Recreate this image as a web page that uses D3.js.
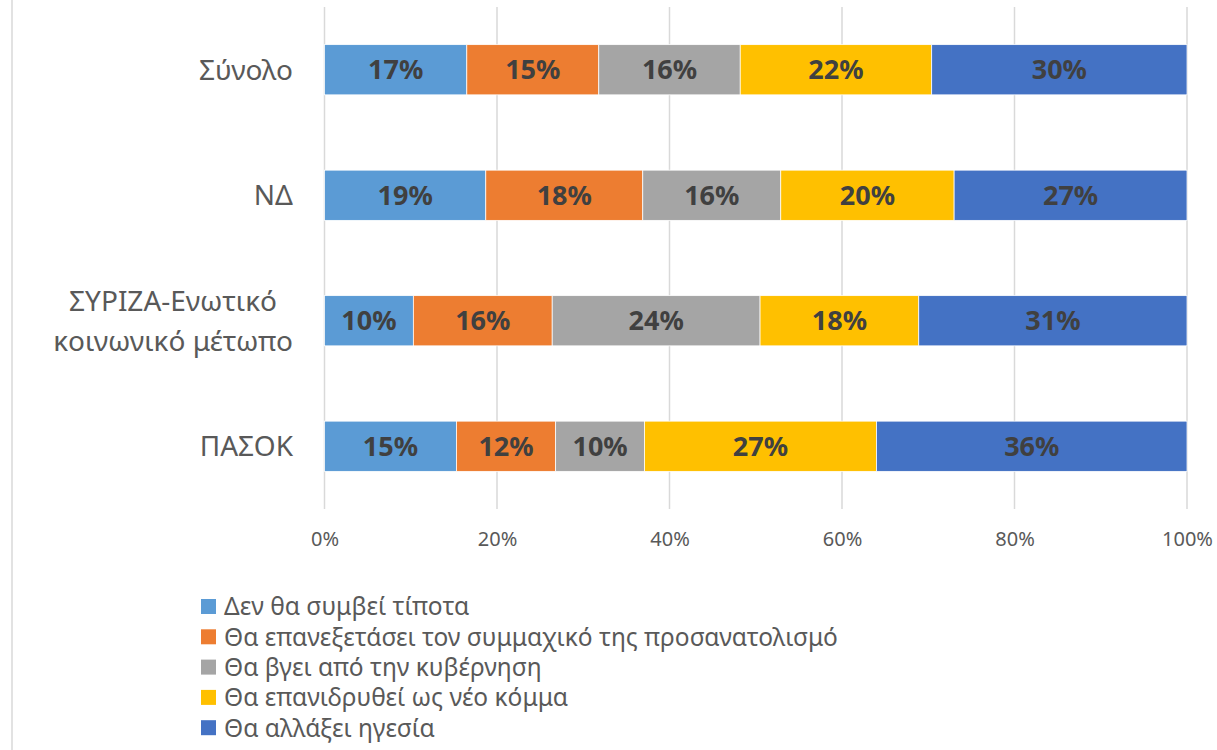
<!DOCTYPE html>
<html>
<head>
<meta charset="utf-8">
<script src="https://cdn.jsdelivr.net/npm/d3@7"></script>
<style>
  html, body { margin: 0; padding: 0; background: #fff; }
  svg { display: block; font-family: 'Noto Sans', 'Open Sans', sans-serif; }
</style>
</head>
<body>
<div id="app"></div>
<script>
(function (d3) {
  'use strict'

  // categories (top to bottom)
  const categories = ['Σύνολο', 'ΝΔ', 'ΣΥΡΙΖΑ-Ενωτικό|κοινωνικό μέτωπο', 'ΠΑΣΟΚ']

  // series names, in stack order
  const seriesNames = [
    'Δεν θα συμβεί τίποτα',
    'Θα επανεξετάσει τον συμμαχικό της προσανατολισμό',
    'Θα βγει από την κυβέρνηση',
    'Θα επανιδρυθεί ως νέο κόμμα',
    'Θα αλλάξει ηγεσία'
  ]

  // values per series, one per category (percent)
  const denTipota = [16.5, 18.7, 10.3, 15.3]
  const epanexetasi = [15.3, 18.2, 16.1, 11.5]
  const vgeiKyvernisi = [16.4, 16.0, 24.1, 10.3]
  const epanidrysi = [22.2, 20.1, 18.4, 26.9]
  const allagiIgesias = [29.6, 27.0, 31.1, 36.0]

  const ticks = [0, 0.2, 0.4, 0.6, 0.8, 1]
  const colors = ['#5B9BD5', '#ED7D31', '#A5A5A5', '#FFC000', '#4472C4']

  const seriesValues = [denTipota, epanexetasi, vgeiKyvernisi, epanidrysi, allagiIgesias]

  // build rows for d3.stack
  const rows = categories.map(function (c, i) {
    const row = { cat: c }
    seriesNames.forEach(function (s, j) { row[s] = seriesValues[j][i] })
    return row
  })

  const stacked = d3.stack()
    .keys(seriesNames)
    .offset(d3.stackOffsetExpand)(rows)

  const W = 1217
  const H = 750

  const svg = d3.select('#app')
    .append('svg')
    .attr('width', W)
    .attr('height', H)

  // chart border (only left edge visible)
  svg.append('rect')
    .attr('x', 12)
    .attr('y', -10)
    .attr('width', W + 20)
    .attr('height', H + 20)
    .attr('fill', 'none')
    .attr('stroke', '#D9D9D9')
    .attr('stroke-width', 1.5)

  const xScale = d3.scaleLinear()
    .domain([0, 1])
    .range([324.5, 1187])

  const yScale = d3.scaleBand()
    .domain(categories)
    .range([7, 509])
    .paddingInner(0.6)
    .paddingOuter(0.3)

  // gridlines
  svg.append('g')
    .selectAll('line')
    .data(ticks)
    .enter()
    .append('line')
    .attr('x1', function (d) { return xScale(d) })
    .attr('x2', function (d) { return xScale(d) })
    .attr('y1', 7)
    .attr('y2', 509)
    .attr('stroke', '#D9D9D9')
    .attr('stroke-width', 1.5)

  // x axis labels
  const xAxis = d3.axisBottom(xScale)
    .tickValues(ticks)
    .tickFormat(d3.format('.0%'))
    .tickSize(0)
    .tickPadding(0)

  const gx = svg.append('g')
    .attr('transform', 'translate(0,532)')
    .call(xAxis)
  gx.select('.domain').remove()
  gx.selectAll('text')
    .attr('fill', '#595959')
    .style('font-size', '20px')
    .style('font-family', "'Noto Sans', sans-serif")

  // bars
  const layer = svg.append('g')
    .selectAll('g')
    .data(stacked)
    .enter()
    .append('g')
    .attr('fill', function (d, i) { return colors[i] })

  layer.selectAll('rect')
    .data(function (d) { return d })
    .enter()
    .append('rect')
    .attr('x', function (d) { return xScale(d[0]) })
    .attr('width', function (d) { return xScale(d[1]) - xScale(d[0]) })
    .attr('y', function (d) { return yScale(d.data.cat) })
    .attr('height', yScale.bandwidth())
    .attr('stroke', '#fff')
    .attr('stroke-width', 0.75)

  // data labels
  layer.selectAll('text')
    .data(function (d) { return d.map(function (p) { p.key = d.key; return p }) })
    .enter()
    .append('text')
    .attr('x', function (d) { return (xScale(d[0]) + xScale(d[1])) / 2 })
    .attr('y', function (d) { return yScale(d.data.cat) + yScale.bandwidth() / 2 })
    .attr('dy', '0.36em')
    .attr('text-anchor', 'middle')
    .attr('fill', '#404040')
    .style('font-size', '27px')
    .style('font-weight', 'bold')
    .text(function (d) { return Math.round(d.data[d.key]) + '%' })

  // category labels: block right-aligned, lines centered in the block
  const labelRight = 293
  const lineH = 40
  categories.forEach(function (c) {
    const lines = c.split('|')
    const g = svg.append('g')
    const texts = g.selectAll('text')
      .data(lines)
      .enter()
      .append('text')
      .attr('text-anchor', 'middle')
      .attr('fill', '#595959')
      .style('font-size', '28px')
      .text(function (d) { return d })
    let blockW = 0
    texts.each(function () { blockW = Math.max(blockW, this.getComputedTextLength()) })
    const cy = yScale(c) + yScale.bandwidth() / 2
    texts
      .attr('x', labelRight - blockW / 2)
      .attr('y', function (d, i) { return cy + (i - (lines.length - 1) / 2) * lineH })
      .attr('dy', '0.36em')
  })

  // legend
  const legend = svg.append('g')
    .selectAll('g')
    .data(seriesNames)
    .enter()
    .append('g')
    .attr('transform', function (d, i) { return 'translate(201,' + (606.5 + i * 30.3) + ')' })

  legend.append('rect')
    .attr('x', 0)
    .attr('y', -7.5)
    .attr('width', 15)
    .attr('height', 15)
    .attr('fill', function (d, i) { return colors[i] })

  legend.append('text')
    .attr('x', 23)
    .attr('y', 0)
    .attr('dy', '0.36em')
    .attr('fill', '#595959')
    .style('font-size', '24.5px')
    .text(function (d) { return d })

})(d3)
</script>
</body>
</html>
